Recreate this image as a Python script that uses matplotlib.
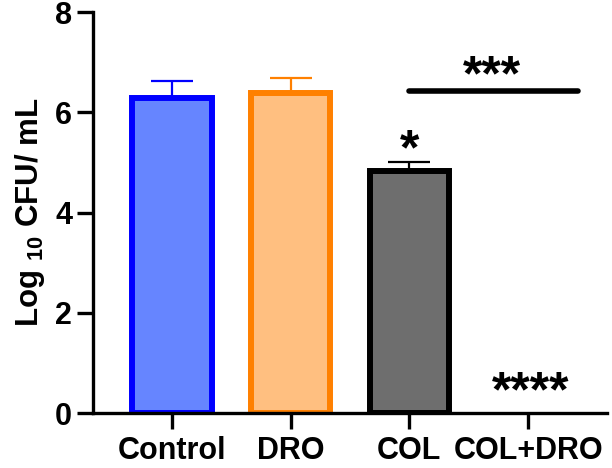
import matplotlib
matplotlib.use("Agg")
import matplotlib.pyplot as plt

groups = ["Control", "DRO", "COL", "COL+DRO"]
means = [6.28, 6.38, 4.83, 0.0]
errors = [0.35, 0.31, 0.18, 0.0]
face_colors = ["#6685FF", "#FFBF80", "#6E6E6E", "#FFFFFF"]
edge_colors = ["#0000FF", "#FF8000", "#000000", "#000000"]

plt.rcParams["font.family"] = ["Liberation Sans", "DejaVu Sans"]
plt.rcParams["font.weight"] = "bold"
plt.rcParams["mathtext.fontset"] = "custom"
plt.rcParams["mathtext.rm"] = "Liberation Sans:bold"
plt.rcParams["mathtext.it"] = "Liberation Sans:bold"
plt.rcParams["mathtext.bf"] = "Liberation Sans:bold"

fig = plt.figure(figsize=(6.12, 4.68), dpi=100)
ax = fig.add_axes([0.152, 0.1175, 0.84, 0.8565])

x = list(range(len(groups)))
for i in x:
    if means[i] > 0:
        ax.bar(i, means[i], width=0.67, color=face_colors[i],
               edgecolor=edge_colors[i], linewidth=4.3, zorder=2)
        ax.errorbar(i, means[i], yerr=[[0], [errors[i]]], fmt="none",
                    ecolor=edge_colors[i], elinewidth=1.6, capsize=14.8,
                    capthick=1.6, zorder=1)

# significance annotations (baseline placed so the stars sit like the original)
ax.plot([2.0, 3.42], [6.42, 6.42], color="black", lw=4, solid_capstyle="round")
ax.text(2.70, 6.45, "***", ha="center", va="baseline", fontsize=36, fontweight="bold")
ax.text(2.0, 4.96, "*", ha="center", va="baseline", fontsize=36, fontweight="bold")
ax.text(3.02, 0.13, "****", ha="center", va="baseline", fontsize=36, fontweight="bold")

ax.set_xlim(-0.666, 3.666)
ax.set_ylim(0, 8)
ax.set_yticks([0, 2, 4, 6, 8])
ax.set_xticks(x)
ax.set_xticklabels(groups)
ax.set_ylabel(r"Log $_{10}$ CFU/ mL", fontsize=22.5, fontweight="bold", labelpad=6)

for side in ["top", "right"]:
    ax.spines[side].set_visible(False)
for side in ["left", "bottom"]:
    ax.spines[side].set_linewidth(2.4)
ax.tick_params(axis="both", length=11.5, width=2.4, labelsize=22)
ax.tick_params(axis="y", pad=3.5)
ax.tick_params(axis="x", pad=5)

fig.savefig("out.png", dpi=100)
